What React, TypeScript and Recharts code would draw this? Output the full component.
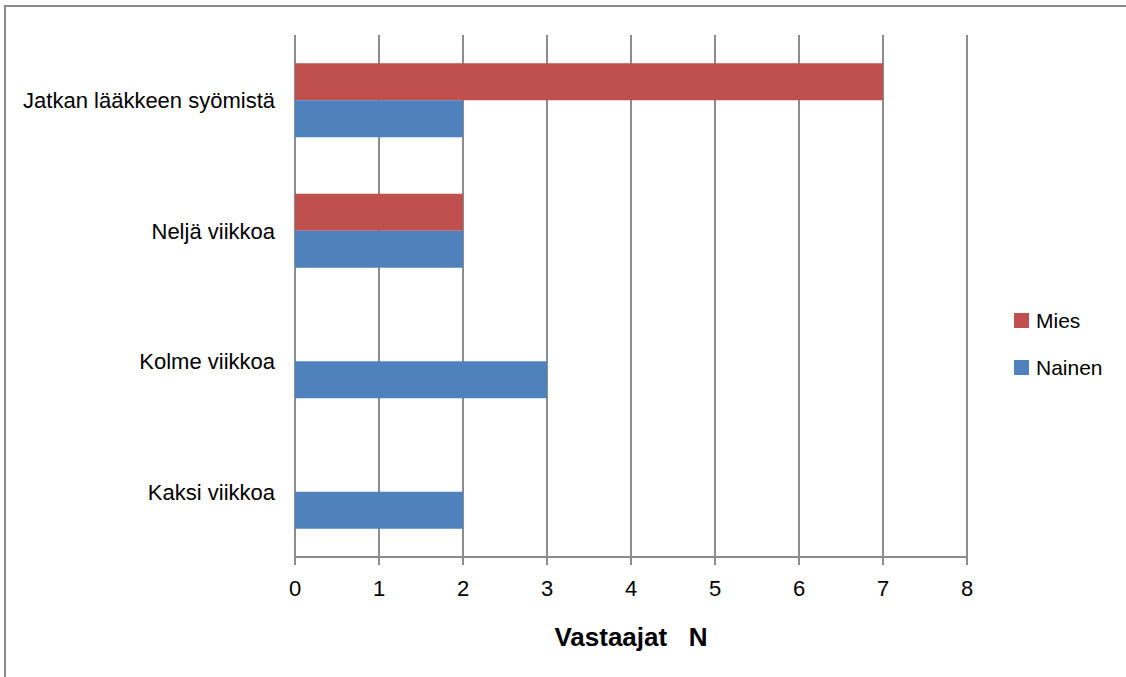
import React from "react";
import {
  BarChart,
  Bar,
  XAxis,
  YAxis,
  CartesianGrid,
  Legend,
} from "recharts";

// categories top -> bottom
const categories = [
  "Jatkan lääkkeen syömistä",
  "Neljä viikkoa",
  "Kolme viikkoa",
  "Kaksi viikkoa",
];
const miesValues = [7, 2, 0, 0];
const nainenValues = [2, 2, 3, 2];
const xTicks = [0, 1, 2, 3, 4, 5, 6, 7, 8];

const data = categories.map((name, i) => ({
  name,
  Mies: miesValues[i],
  Nainen: nainenValues[i],
}));

const font = "'Liberation Sans', Arial, sans-serif";
const gridColor = "#8c8c8c";

const LegendBox = ({ payload }: any) => (
  <div style={{ fontFamily: font, fontSize: 21, color: "#000" }}>
    {(payload || []).map((p: any) => (
      <div
        key={p.value}
        style={{ display: "flex", alignItems: "center", height: 47 }}
      >
        <span
          style={{
            width: 15,
            height: 15,
            background: p.color,
            display: "inline-block",
            marginRight: 7,
          }}
        />
        <span>{p.value}</span>
      </div>
    ))}
  </div>
);

const App = () => {
  return (
    <div
      style={{
        position: "absolute",
        left: 0,
        top: 0,
        width: 1126,
        height: 677,
        overflow: "hidden",
        background: "#fff",
      }}
    >
      <div
        style={{
          position: "absolute",
          left: 4,
          top: 5,
          width: 1200,
          height: 800,
          border: "2px solid #8a8a8a",
        }}
      />
      <BarChart
        width={1126}
        height={677}
        data={data}
        layout="vertical"
        margin={{ top: 35, right: 49, bottom: 0, left: 0 }}
        barCategoryGap="21.6%"
        barGap={0}
      >
        <CartesianGrid
          horizontal={false}
          stroke={gridColor}
          strokeWidth={2}
        />
        <XAxis
          type="number"
          domain={[0, 8]}
          ticks={xTicks}
          height={120}
          stroke={gridColor}
          strokeWidth={2}
          tickSize={8}
          tickMargin={15}
          tick={{ fill: "#000", fontSize: 22, fontFamily: font }}
          label={{
            value: "Vastaajat\u00A0\u00A0\u00A0N",
            position: "insideBottom",
            offset: 31,
            style: {
              fill: "#000",
              fontSize: 26,
              fontWeight: "bold",
              fontFamily: font,
            },
          }}
        />
        <YAxis
          type="category"
          dataKey="name"
          width={295}
          axisLine={false}
          tickLine={false}
          tickSize={0}
          tickMargin={20}
          tick={{ fill: "#000", fontSize: 22, fontFamily: font }}
        />
        <Legend
          layout="horizontal"
          verticalAlign="middle"
          align="right"
          content={<LegendBox />}
          wrapperStyle={{ left: 1014, top: 297, width: 110 }}
        />
        <Bar dataKey="Mies" fill="#C0504D" isAnimationActive={false} />
        <Bar dataKey="Nainen" fill="#4F81BD" isAnimationActive={false} />
      </BarChart>
    </div>
  );
};

export default App;
